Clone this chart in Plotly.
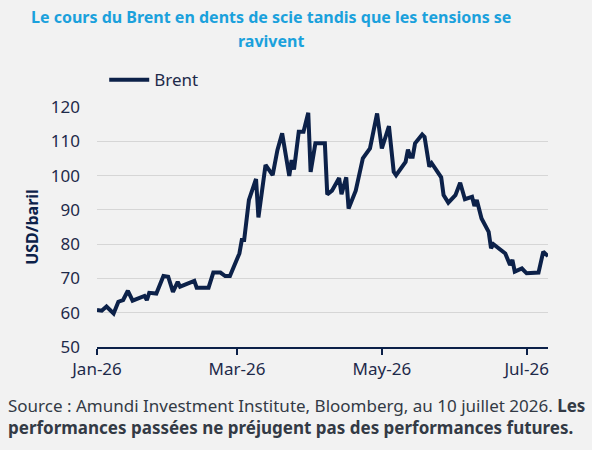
import plotly.graph_objects as go

dates = [
    "2026-01-01", "2026-01-03", "2026-01-05", "2026-01-08", "2026-01-10", "2026-01-12",
    "2026-01-14", "2026-01-16", "2026-01-21", "2026-01-22", "2026-01-23", "2026-01-26",
    "2026-01-29", "2026-01-31", "2026-02-02", "2026-02-04", "2026-02-05", "2026-02-11",
    "2026-02-12", "2026-02-17", "2026-02-19", "2026-02-22", "2026-02-24", "2026-02-26",
    "2026-03-02", "2026-03-03", "2026-03-04", "2026-03-06", "2026-03-09", "2026-03-10",
    "2026-03-13", "2026-03-16", "2026-03-18", "2026-03-20", "2026-03-23", "2026-03-24",
    "2026-03-25", "2026-03-27", "2026-03-29", "2026-03-31", "2026-04-01", "2026-04-03",
    "2026-04-07", "2026-04-08", "2026-04-10", "2026-04-13", "2026-04-14", "2026-04-16",
    "2026-04-17", "2026-04-20", "2026-04-23", "2026-04-26", "2026-04-29", "2026-05-01",
    "2026-05-04", "2026-05-06", "2026-05-07", "2026-05-11", "2026-05-12", "2026-05-13",
    "2026-05-14", "2026-05-15", "2026-05-18", "2026-05-19", "2026-05-21", "2026-05-22",
    "2026-05-26", "2026-05-27", "2026-05-29", "2026-06-01", "2026-06-03", "2026-06-05",
    "2026-06-08", "2026-06-09", "2026-06-10", "2026-06-12", "2026-06-15", "2026-06-16",
    "2026-06-17", "2026-06-22", "2026-06-24", "2026-06-25", "2026-06-26", "2026-06-29",
    "2026-07-01", "2026-07-06", "2026-07-08", "2026-07-10",
]
brent = [
    60.8, 60.6, 61.8, 59.8, 63.2, 63.7,
    66.4, 63.5, 64.9, 63.7, 65.8, 65.6,
    70.7, 70.5, 66.1, 69.0, 67.6, 69.3,
    67.3, 67.3, 71.7, 71.7, 70.7, 70.7,
    77.3, 81.2, 81.2, 92.9, 99.0, 87.8,
    103.1, 100.1, 107.4, 112.3, 99.9, 104.5,
    101.8, 112.8, 112.8, 118.3, 101.1, 109.4,
    109.4, 94.5, 95.6, 99.3, 94.6, 99.5,
    90.4, 95.6, 105.0, 107.9, 118.1, 107.9,
    114.4, 101.1, 100.1, 104.0, 107.6, 105.5,
    105.5, 109.4, 112.0, 111.3, 102.6, 103.6,
    99.5, 94.3, 92.1, 94.3, 97.9, 93.1,
    93.8, 91.1, 92.9, 87.5, 83.6, 78.8,
    80.0, 77.3, 73.9, 75.4, 72.0, 72.9,
    71.5, 71.7, 77.8, 76.5,
]
tick_vals = ["2026-01-01", "2026-03-01", "2026-05-01", "2026-07-01"]
tick_text = ["Jan-26", "Mar-26", "May-26", "Jul-26"]
y_ticks = [50, 60, 70, 80, 90, 100, 110, 120]

NAVY = "#0c2149"
TXT = "#1e2a4a"
BG = "#f2f2f2"
FONT = "Noto Sans"

fig = go.Figure()
fig.add_trace(go.Scatter(
    x=dates, y=brent, mode="lines", name="Brent",
    line=dict(color=NAVY, width=4),
))

fig.update_layout(
    width=592, height=450,
    paper_bgcolor=BG, plot_bgcolor=BG,
    margin=dict(l=97, r=44, t=107, b=103, autoexpand=False),
    font=dict(family=FONT, size=17, color=TXT),
    showlegend=True,
    legend=dict(
        x=0.016, xanchor="left", y=0.822, yanchor="middle", yref="container",
        orientation="h", bgcolor="rgba(0,0,0,0)",
        font=dict(size=17, color=TXT),
        itemwidth=40,
    ),
    xaxis=dict(
        type="date",
        range=["2026-01-01", "2026-07-10"],
        tickvals=tick_vals, ticktext=tick_text,
        showgrid=False,
        showline=True, linecolor=NAVY, linewidth=2,
        ticks="outside", ticklen=6, tickwidth=2, tickcolor=NAVY,
        tickfont=dict(size=17, color=TXT),
    ),
    yaxis=dict(
        range=[50, 120],
        tickvals=y_ticks,
        showgrid=True, gridcolor="#d6d6d6", gridwidth=1,
        zeroline=False, showline=False,
        ticks="", ticklabelstandoff=16,
        tickfont=dict(size=17, color=TXT),
        title=dict(text="<b>USD/baril</b>", font=dict(size=16, color=NAVY), standoff=8),
    ),
)

fig.add_annotation(
    text="<b>Le cours du Brent en dents de scie tandis que les tensions se</b>",
    xref="paper", yref="paper", x=(271 - 97) / 451, y=(347 - 17) / 240,
    xanchor="center", yanchor="middle", showarrow=False, align="center",
    font=dict(family=FONT, size=16, color="#1ba1dc"),
)
fig.add_annotation(
    text="<b>ravivent</b>",
    xref="paper", yref="paper", x=(271 - 97) / 451, y=(347 - 41) / 240,
    xanchor="center", yanchor="middle", showarrow=False, align="center",
    font=dict(family=FONT, size=16, color="#1ba1dc"),
)

fig.add_annotation(
    text="Source : Amundi Investment Institute, Bloomberg, au 10 juillet 2026. <b>Les</b><br><b>performances passées ne préjugent pas des performances futures.</b>",
    xref="paper", yref="paper", x=(6 - 97) / 451, y=(347 - 392) / 240,
    xanchor="left", yanchor="top",
    showarrow=False, align="left",
    font=dict(family=FONT, size=17, color="#333a45"),
)

fig.write_html("out.html")
